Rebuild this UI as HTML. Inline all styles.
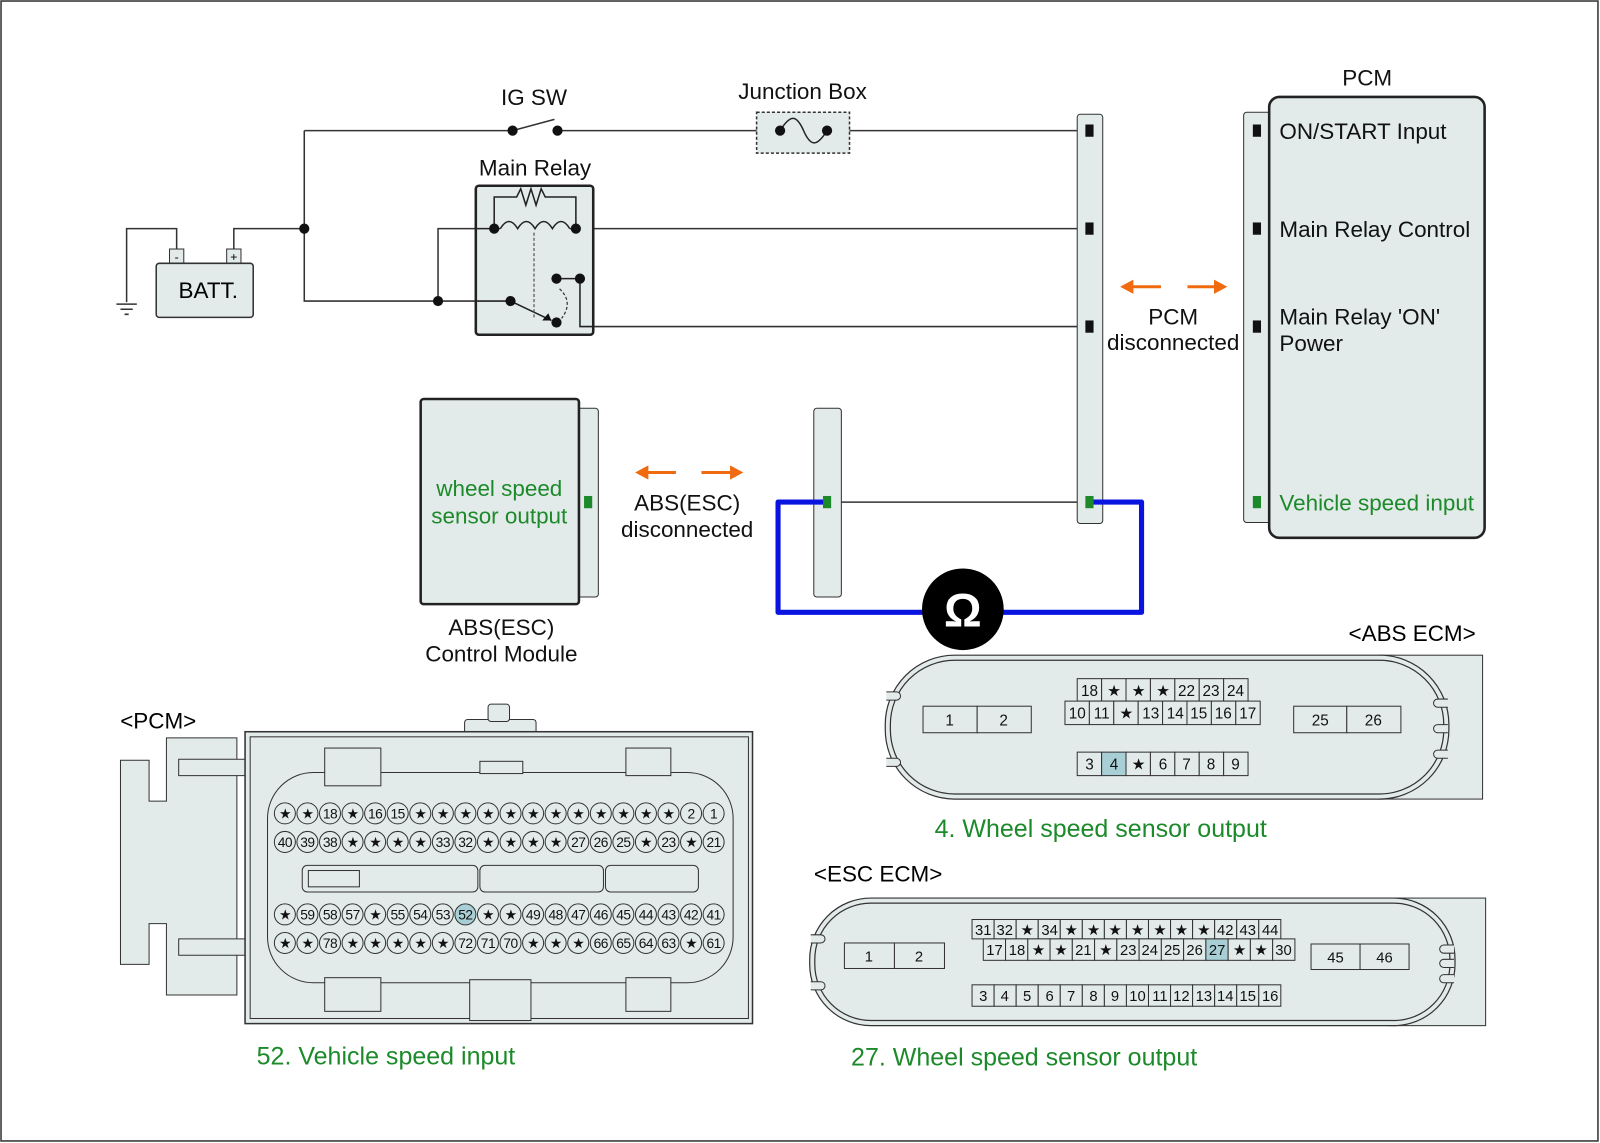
<!DOCTYPE html>
<html><head><meta charset="utf-8"><style>
html,body{margin:0;padding:0;background:#fff}
svg{display:block}
text{font-family:"Liberation Sans",Arial,sans-serif}
</style></head><body>
<svg width="1600" height="1143" viewBox="0 0 1567 1120" preserveAspectRatio="none" xmlns="http://www.w3.org/2000/svg">
<rect x="1" y="1" width="1564" height="1117" fill="#fff" stroke="#333" stroke-width="1.5"/>

<!-- wires -->
<g stroke="#333" stroke-width="1.5" fill="none">
<path d="M298,128 H502 M546,128 H764 M810,128 H1066"/>
<path d="M298,128 V295 H500"/>
<path d="M229,248 V224 H298"/>
<path d="M173,248 V224 H124 V296"/>
<path d="M429,295 V224 H484"/>
<path d="M564,224 H1066"/>
<path d="M568,273 V320 H1066"/>
<path d="M502,128 L543,117"/>
<path d="M810,492 H1066"/>
<path d="M114,298 H134 M118,303 H130 M122,308 H126"/>
</g>
<g fill="#111">
<circle cx="298" cy="224" r="5"/><circle cx="502" cy="128" r="5"/><circle cx="546" cy="128" r="5"/>
<circle cx="429" cy="295" r="5"/>
</g>

<!-- relay box -->
<rect x="466" y="182" width="115" height="146" rx="3" fill="#e3eaea" stroke="#222" stroke-width="2.5"/>
<g stroke="#222" stroke-width="1.5" fill="none">
<path d="M484,224 V193 H506 l4,-8 l5,16 l5,-16 l5,16 l5,-16 l4,8 H564 V224"/>
<path d="M490,224 q8.5,-14 17,0 q8.5,-14 17,0 q8.5,-14 17,0 q8.5,-14 17,0"/>
<path d="M484,224 H490 M558,224 H564 M545,273 H568 M568,273 V320 H581 M466,295 H500 M500,295 L540,314 M466,224 H484"/>
</g>
<path d="M523,228 V312" stroke="#555" stroke-width="1.2" stroke-dasharray="3,2"/>
<path d="M548,283 Q562,296 550,312" stroke="#333" stroke-width="1.2" stroke-dasharray="3,2" fill="none"/>
<g fill="#111">
<circle cx="500" cy="295" r="5"/><circle cx="545" cy="316" r="5"/>
<circle cx="484" cy="224" r="5"/><circle cx="564" cy="224" r="5"/><circle cx="545" cy="273" r="5"/><circle cx="568" cy="273" r="5"/>
</g>
<polygon points="540,314 531,314 537,307" fill="#111"/>

<!-- battery -->
<rect x="166" y="244" width="14" height="14" fill="#e3eaea" stroke="#333"/>
<rect x="222" y="244" width="14" height="14" fill="#e3eaea" stroke="#333"/>
<text x="173" y="256" font-size="12" text-anchor="middle">-</text>
<text x="229" y="256" font-size="12" text-anchor="middle">+</text>
<rect x="153" y="258" width="95" height="53" rx="3" fill="#e3eaea" stroke="#333" stroke-width="1.5"/>
<text x="204" y="292" font-size="22" text-anchor="middle">BATT.</text>

<!-- junction box -->
<rect x="741" y="110" width="91" height="40" fill="#e3eaea" stroke="#333" stroke-width="1.5" stroke-dasharray="3,2"/>
<path d="M764,128 C774,112 780,112 787,128 S800,144 810,128" stroke="#222" stroke-width="1.5" fill="none"/>
<circle cx="764" cy="128" r="5" fill="#111"/><circle cx="810" cy="128" r="5" fill="#111"/>

<g font-size="22" fill="#111" text-anchor="middle">
<text x="523" y="103">IG SW</text>
<text x="786" y="97">Junction Box</text>
<text x="524" y="172">Main Relay</text>
<text x="1339" y="84">PCM</text>
<text x="1149" y="318">PCM</text>
<text x="1149" y="343">disconnected</text>
<text x="673" y="500">ABS(ESC)</text>
<text x="673" y="526">disconnected</text>
<text x="491" y="622">ABS(ESC)</text>
<text x="491" y="648">Control Module</text>
</g>

<!-- connector strip center -->
<rect x="1055" y="112" width="25" height="401" rx="3" fill="#e3eaea" stroke="#333"/>
<g fill="#111"><rect x="1063" y="122" width="8" height="12"/><rect x="1063" y="218" width="8" height="12"/><rect x="1063" y="314" width="8" height="12"/></g>

<!-- PCM box -->
<rect x="1218" y="110" width="30" height="402" rx="3" fill="#e3eaea" stroke="#333"/>
<rect x="1243" y="95" width="211" height="432" rx="10" fill="#e3eaea" stroke="#222" stroke-width="2.5"/>
<g fill="#111"><rect x="1227" y="122" width="8" height="12"/><rect x="1227" y="218" width="8" height="12"/><rect x="1227" y="314" width="8" height="12"/></g>
<rect x="1227" y="486" width="8" height="12" fill="#1c8a2a"/>
<g font-size="22" fill="#111">
<text x="1253" y="136">ON/START Input</text>
<text x="1253" y="232">Main Relay Control</text>
<text x="1253" y="318">Main Relay 'ON'</text>
<text x="1253" y="344">Power</text>
<text x="1253" y="500" fill="#1c8a2a">Vehicle speed input</text>
</g>

<!-- arrows -->
<g fill="#f06a10" stroke="#f06a10" stroke-width="3">
<path d="M1108,281 H1137" /><polygon points="1097,281 1110,274 1110,288" stroke="none"/>
<path d="M1163,281 H1190" /><polygon points="1202,281 1189,274 1189,288" stroke="none"/>
<path d="M633,463 H662" /><polygon points="622,463 635,456 635,470" stroke="none"/>
<path d="M687,463 H716" /><polygon points="728,463 715,456 715,470" stroke="none"/>
</g>

<!-- ABS module -->
<rect x="562" y="400" width="24" height="185" rx="3" fill="#e3eaea" stroke="#333"/>
<rect x="412" y="391" width="155" height="201" rx="3" fill="#e3eaea" stroke="#222" stroke-width="2.5"/>
<rect x="572" y="486" width="8" height="12" fill="#1c8a2a"/>
<text x="489" y="486" font-size="22" fill="#1c8a2a" text-anchor="middle">wheel speed</text>
<text x="489" y="513" font-size="22" fill="#1c8a2a" text-anchor="middle">sensor output</text>

<!-- middle strip -->
<rect x="797" y="400" width="27" height="185" rx="3" fill="#e3eaea" stroke="#333"/>

<!-- blue loop -->
<path d="M810,492 H762 V600 H1118 V492 H1070" stroke="#0a14e0" stroke-width="5" fill="none" stroke-linejoin="round"/>
<rect x="806" y="486" width="8" height="12" fill="#1c8a2a"/>
<rect x="1063" y="486" width="8" height="12" fill="#1c8a2a"/>
<circle cx="943" cy="597" r="40" fill="#000"/>
<text x="943" y="614" font-size="46" font-weight="bold" fill="#fff" text-anchor="middle">Ω</text>

<!-- ABS ECM connector -->
<text x="1383" y="628" font-size="22" text-anchor="middle">&lt;ABS ECM&gt;</text>
<rect x="1350" y="642" width="102" height="141" fill="#e3eaea" stroke="#333"/>
<rect x="867" y="642" width="552" height="141" rx="68" fill="#e3eaea" stroke="#333" stroke-width="1.2"/>
<rect x="872" y="647" width="542" height="131" rx="63" fill="none" stroke="#333" stroke-width="1.2"/>
<g stroke="#333" fill="#e3eaea">
<path d="M868,678 h10 a4,4 0 0 1 0,8 h-10"/><path d="M868,743 h10 a4,4 0 0 1 0,8 h-10"/>
<path d="M1418,685 h-10 a4,4 0 0 0 0,8 h10"/><path d="M1418,710 h-10 a4,4 0 0 0 0,8 h10"/><path d="M1418,735 h-10 a4,4 0 0 0 0,8 h10"/>
</g>
<g stroke="#333" fill="#e3eaea" stroke-width="1">
<rect x="904" y="692" width="53" height="26"/><rect x="957" y="692" width="53" height="26"/>
<rect x="1267" y="692" width="52" height="26"/><rect x="1319" y="692" width="53" height="26"/>
<rect x="1055" y="665" width="23.9" height="22"/><rect x="1078.9" y="665" width="23.9" height="22"/><rect x="1102.8" y="665" width="23.9" height="22"/><rect x="1126.7" y="665" width="23.9" height="22"/><rect x="1150.6" y="665" width="23.9" height="22"/><rect x="1174.5" y="665" width="23.9" height="22"/><rect x="1198.4" y="665" width="23.9" height="22"/>
<rect x="1043" y="687" width="23.9" height="23"/><rect x="1066.9" y="687" width="23.9" height="23"/><rect x="1090.8" y="687" width="23.9" height="23"/><rect x="1114.7" y="687" width="23.9" height="23"/><rect x="1138.6" y="687" width="23.9" height="23"/><rect x="1162.5" y="687" width="23.9" height="23"/><rect x="1186.4" y="687" width="23.9" height="23"/><rect x="1210.3" y="687" width="23.9" height="23"/>
<rect x="1055" y="737" width="23.9" height="23"/><rect x="1078.9" y="737" width="23.9" height="23" fill="#a9cfd6"/><rect x="1102.8" y="737" width="23.9" height="23"/><rect x="1126.7" y="737" width="23.9" height="23"/><rect x="1150.6" y="737" width="23.9" height="23"/><rect x="1174.5" y="737" width="23.9" height="23"/><rect x="1198.4" y="737" width="23.9" height="23"/>
</g>
<g font-size="15" text-anchor="middle" fill="#111">
<text x="930" y="711">1</text><text x="983" y="711">2</text><text x="1293" y="711">25</text><text x="1345" y="711">26</text>
<text x="1067" y="682">18</text><text x="1091" y="682">★</text><text x="1115" y="682">★</text><text x="1139" y="682">★</text><text x="1162" y="682">22</text><text x="1186" y="682">23</text><text x="1210" y="682">24</text>
<text x="1055" y="704">10</text><text x="1079" y="704">11</text><text x="1103" y="704">★</text><text x="1127" y="704">13</text><text x="1151" y="704">14</text><text x="1174" y="704">15</text><text x="1198" y="704">16</text><text x="1222" y="704">17</text>
<text x="1067" y="754">3</text><text x="1091" y="754">4</text><text x="1115" y="754">★</text><text x="1139" y="754">6</text><text x="1162" y="754">7</text><text x="1186" y="754">8</text><text x="1210" y="754">9</text>
</g>
<text x="1078" y="820" font-size="24.5" fill="#1c8a2a" text-anchor="middle">4. Wheel speed sensor output</text>

<!-- ESC ECM connector -->
<text x="860" y="864" font-size="22" text-anchor="middle">&lt;ESC ECM&gt;</text>
<rect x="1360" y="880" width="95" height="125" fill="#e3eaea" stroke="#333"/>
<rect x="793" y="880" width="632" height="125" rx="60" fill="#e3eaea" stroke="#333" stroke-width="1.2"/>
<rect x="798" y="885" width="622" height="115" rx="55" fill="none" stroke="#333" stroke-width="1.2"/>
<g stroke="#333" fill="#e3eaea">
<path d="M794,916 h10 a4,4 0 0 1 0,8 h-10"/><path d="M794,962 h10 a4,4 0 0 1 0,8 h-10"/>
<path d="M1424,926 h-10 a4,4 0 0 0 0,8 h10"/><path d="M1424,940 h-10 a4,4 0 0 0 0,8 h10"/><path d="M1424,955 h-10 a4,4 0 0 0 0,8 h10"/>
</g>
<g stroke="#333" fill="#e3eaea" stroke-width="1">
<rect x="827" y="924" width="49" height="25"/><rect x="876" y="924" width="49" height="25"/>
<rect x="1284" y="925" width="48" height="25"/><rect x="1332" y="925" width="48" height="25"/>
<rect x="952" y="901" width="21.6" height="19"/><rect x="973.6" y="901" width="21.6" height="19"/><rect x="995.2" y="901" width="21.6" height="19"/><rect x="1016.8" y="901" width="21.6" height="19"/><rect x="1038.4" y="901" width="21.6" height="19"/><rect x="1060" y="901" width="21.6" height="19"/><rect x="1081.6" y="901" width="21.6" height="19"/><rect x="1103.2" y="901" width="21.6" height="19"/><rect x="1124.8" y="901" width="21.6" height="19"/><rect x="1146.4" y="901" width="21.6" height="19"/><rect x="1168" y="901" width="21.6" height="19"/><rect x="1189.6" y="901" width="21.6" height="19"/><rect x="1211.2" y="901" width="21.6" height="19"/><rect x="1232.8" y="901" width="21.6" height="19"/>
<rect x="963" y="920" width="21.8" height="21"/><rect x="984.8" y="920" width="21.8" height="21"/><rect x="1006.6" y="920" width="21.8" height="21"/><rect x="1028.4" y="920" width="21.8" height="21"/><rect x="1050.2" y="920" width="21.8" height="21"/><rect x="1072" y="920" width="21.8" height="21"/><rect x="1093.8" y="920" width="21.8" height="21"/><rect x="1115.6" y="920" width="21.8" height="21"/><rect x="1137.4" y="920" width="21.8" height="21"/><rect x="1159.2" y="920" width="21.8" height="21"/><rect x="1181" y="920" width="21.8" height="21" fill="#a9cfd6"/><rect x="1202.8" y="920" width="21.8" height="21"/><rect x="1224.6" y="920" width="21.8" height="21"/><rect x="1246.4" y="920" width="21.8" height="21"/>
<rect x="952" y="965" width="21.6" height="21"/><rect x="973.6" y="965" width="21.6" height="21"/><rect x="995.2" y="965" width="21.6" height="21"/><rect x="1016.8" y="965" width="21.6" height="21"/><rect x="1038.4" y="965" width="21.6" height="21"/><rect x="1060" y="965" width="21.6" height="21"/><rect x="1081.6" y="965" width="21.6" height="21"/><rect x="1103.2" y="965" width="21.6" height="21"/><rect x="1124.8" y="965" width="21.6" height="21"/><rect x="1146.4" y="965" width="21.6" height="21"/><rect x="1168" y="965" width="21.6" height="21"/><rect x="1189.6" y="965" width="21.6" height="21"/><rect x="1211.2" y="965" width="21.6" height="21"/><rect x="1232.8" y="965" width="21.6" height="21"/>
</g>
<g font-size="14.5" text-anchor="middle" fill="#111">
<text x="851" y="942">1</text><text x="900" y="942">2</text><text x="1308" y="943">45</text><text x="1356" y="943">46</text>
<text x="963" y="916">31</text><text x="984" y="916">32</text><text x="1006" y="916">★</text><text x="1028" y="916">34</text><text x="1049" y="916">★</text><text x="1071" y="916">★</text><text x="1092" y="916">★</text><text x="1114" y="916">★</text><text x="1136" y="916">★</text><text x="1157" y="916">★</text><text x="1179" y="916">★</text><text x="1200" y="916">42</text><text x="1222" y="916">43</text><text x="1244" y="916">44</text>
<text x="974" y="936">17</text><text x="996" y="936">18</text><text x="1017" y="936">★</text><text x="1039" y="936">★</text><text x="1061" y="936">21</text><text x="1083" y="936">★</text><text x="1105" y="936">23</text><text x="1126" y="936">24</text><text x="1148" y="936">25</text><text x="1170" y="936">26</text><text x="1192" y="936">27</text><text x="1214" y="936">★</text><text x="1235" y="936">★</text><text x="1257" y="936">30</text>
<text x="963" y="981">3</text><text x="984" y="981">4</text><text x="1006" y="981">5</text><text x="1028" y="981">6</text><text x="1049" y="981">7</text><text x="1071" y="981">8</text><text x="1092" y="981">9</text><text x="1114" y="981">10</text><text x="1136" y="981">11</text><text x="1157" y="981">12</text><text x="1179" y="981">13</text><text x="1200" y="981">14</text><text x="1222" y="981">15</text><text x="1244" y="981">16</text>
</g>
<text x="1003" y="1044" font-size="24.5" fill="#1c8a2a" text-anchor="middle">27. Wheel speed sensor output</text>

<!-- PCM connector -->
<text x="155" y="714" font-size="22" text-anchor="middle">&lt;PCM&gt;</text>
<path d="M118,745 H146 V785 H163 V723 H232 V975 H163 V905 H146 V945 H118 Z" fill="#e3eaea" stroke="#333"/>
<path d="M175,744 H240 V760 H175 Z M175,920 H240 V936 H175 Z" fill="#e3eaea" stroke="#333"/>
<rect x="455" y="705" width="70" height="14" rx="3" fill="#e3eaea" stroke="#333"/>
<rect x="478" y="690" width="21" height="17" rx="3" fill="#e3eaea" stroke="#333"/>
<rect x="240" y="717" width="497" height="286" fill="#e3eaea" stroke="#333" stroke-width="1.5"/>
<rect x="245" y="722" width="488" height="276" fill="none" stroke="#333"/>
<rect x="262" y="757" width="456" height="206" rx="45" fill="#e3eaea" stroke="#333"/>
<g fill="#e3eaea" stroke="#333">
<rect x="318" y="733" width="55" height="37"/><rect x="613" y="733" width="44" height="27"/>
<rect x="318" y="958" width="55" height="33"/><rect x="613" y="958" width="44" height="33"/>
<rect x="460" y="960" width="60" height="40"/>
<rect x="470" y="746" width="42" height="12"/>
<rect x="296" y="848" width="172" height="26" rx="5"/><rect x="302" y="853" width="50" height="16"/>
<rect x="470" y="848" width="121" height="26" rx="5"/><rect x="593" y="848" width="91" height="26" rx="5"/>
</g>
<g stroke="#333" fill="#e3eaea" stroke-width="1">
<circle cx="279" cy="797" r="10.3"/><circle cx="301.1" cy="797" r="10.3"/><circle cx="323.2" cy="797" r="10.3"/><circle cx="345.3" cy="797" r="10.3"/><circle cx="367.4" cy="797" r="10.3"/><circle cx="389.5" cy="797" r="10.3"/><circle cx="411.6" cy="797" r="10.3"/><circle cx="433.7" cy="797" r="10.3"/><circle cx="455.8" cy="797" r="10.3"/><circle cx="477.9" cy="797" r="10.3"/><circle cx="500" cy="797" r="10.3"/><circle cx="522.1" cy="797" r="10.3"/><circle cx="544.2" cy="797" r="10.3"/><circle cx="566.3" cy="797" r="10.3"/><circle cx="588.4" cy="797" r="10.3"/><circle cx="610.5" cy="797" r="10.3"/><circle cx="632.6" cy="797" r="10.3"/><circle cx="654.7" cy="797" r="10.3"/><circle cx="676.8" cy="797" r="10.3"/><circle cx="698.9" cy="797" r="10.3"/>
<circle cx="279" cy="825" r="10.3"/><circle cx="301.1" cy="825" r="10.3"/><circle cx="323.2" cy="825" r="10.3"/><circle cx="345.3" cy="825" r="10.3"/><circle cx="367.4" cy="825" r="10.3"/><circle cx="389.5" cy="825" r="10.3"/><circle cx="411.6" cy="825" r="10.3"/><circle cx="433.7" cy="825" r="10.3"/><circle cx="455.8" cy="825" r="10.3"/><circle cx="477.9" cy="825" r="10.3"/><circle cx="500" cy="825" r="10.3"/><circle cx="522.1" cy="825" r="10.3"/><circle cx="544.2" cy="825" r="10.3"/><circle cx="566.3" cy="825" r="10.3"/><circle cx="588.4" cy="825" r="10.3"/><circle cx="610.5" cy="825" r="10.3"/><circle cx="632.6" cy="825" r="10.3"/><circle cx="654.7" cy="825" r="10.3"/><circle cx="676.8" cy="825" r="10.3"/><circle cx="698.9" cy="825" r="10.3"/>
<circle cx="279" cy="896" r="10.3"/><circle cx="301.1" cy="896" r="10.3"/><circle cx="323.2" cy="896" r="10.3"/><circle cx="345.3" cy="896" r="10.3"/><circle cx="367.4" cy="896" r="10.3"/><circle cx="389.5" cy="896" r="10.3"/><circle cx="411.6" cy="896" r="10.3"/><circle cx="433.7" cy="896" r="10.3"/><circle cx="455.8" cy="896" r="10.3" fill="#a9cfd6"/><circle cx="477.9" cy="896" r="10.3"/><circle cx="500" cy="896" r="10.3"/><circle cx="522.1" cy="896" r="10.3"/><circle cx="544.2" cy="896" r="10.3"/><circle cx="566.3" cy="896" r="10.3"/><circle cx="588.4" cy="896" r="10.3"/><circle cx="610.5" cy="896" r="10.3"/><circle cx="632.6" cy="896" r="10.3"/><circle cx="654.7" cy="896" r="10.3"/><circle cx="676.8" cy="896" r="10.3"/><circle cx="698.9" cy="896" r="10.3"/>
<circle cx="279" cy="924" r="10.3"/><circle cx="301.1" cy="924" r="10.3"/><circle cx="323.2" cy="924" r="10.3"/><circle cx="345.3" cy="924" r="10.3"/><circle cx="367.4" cy="924" r="10.3"/><circle cx="389.5" cy="924" r="10.3"/><circle cx="411.6" cy="924" r="10.3"/><circle cx="433.7" cy="924" r="10.3"/><circle cx="455.8" cy="924" r="10.3"/><circle cx="477.9" cy="924" r="10.3"/><circle cx="500" cy="924" r="10.3"/><circle cx="522.1" cy="924" r="10.3"/><circle cx="544.2" cy="924" r="10.3"/><circle cx="566.3" cy="924" r="10.3"/><circle cx="588.4" cy="924" r="10.3"/><circle cx="610.5" cy="924" r="10.3"/><circle cx="632.6" cy="924" r="10.3"/><circle cx="654.7" cy="924" r="10.3"/><circle cx="676.8" cy="924" r="10.3"/><circle cx="698.9" cy="924" r="10.3"/>
</g>
<g font-size="13.5" text-anchor="middle" fill="#111" letter-spacing="-0.5">
<text x="279" y="802">★</text><text x="301.1" y="802">★</text><text x="323.2" y="802">18</text><text x="345.3" y="802">★</text><text x="367.4" y="802">16</text><text x="389.5" y="802">15</text><text x="411.6" y="802">★</text><text x="433.7" y="802">★</text><text x="455.8" y="802">★</text><text x="477.9" y="802">★</text><text x="500" y="802">★</text><text x="522.1" y="802">★</text><text x="544.2" y="802">★</text><text x="566.3" y="802">★</text><text x="588.4" y="802">★</text><text x="610.5" y="802">★</text><text x="632.6" y="802">★</text><text x="654.7" y="802">★</text><text x="676.8" y="802">2</text><text x="698.9" y="802">1</text>
<text x="279" y="830">40</text><text x="301.1" y="830">39</text><text x="323.2" y="830">38</text><text x="345.3" y="830">★</text><text x="367.4" y="830">★</text><text x="389.5" y="830">★</text><text x="411.6" y="830">★</text><text x="433.7" y="830">33</text><text x="455.8" y="830">32</text><text x="477.9" y="830">★</text><text x="500" y="830">★</text><text x="522.1" y="830">★</text><text x="544.2" y="830">★</text><text x="566.3" y="830">27</text><text x="588.4" y="830">26</text><text x="610.5" y="830">25</text><text x="632.6" y="830">★</text><text x="654.7" y="830">23</text><text x="676.8" y="830">★</text><text x="698.9" y="830">21</text>
<text x="279" y="901">★</text><text x="301.1" y="901">59</text><text x="323.2" y="901">58</text><text x="345.3" y="901">57</text><text x="367.4" y="901">★</text><text x="389.5" y="901">55</text><text x="411.6" y="901">54</text><text x="433.7" y="901">53</text><text x="455.8" y="901">52</text><text x="477.9" y="901">★</text><text x="500" y="901">★</text><text x="522.1" y="901">49</text><text x="544.2" y="901">48</text><text x="566.3" y="901">47</text><text x="588.4" y="901">46</text><text x="610.5" y="901">45</text><text x="632.6" y="901">44</text><text x="654.7" y="901">43</text><text x="676.8" y="901">42</text><text x="698.9" y="901">41</text>
<text x="279" y="929">★</text><text x="301.1" y="929">★</text><text x="323.2" y="929">78</text><text x="345.3" y="929">★</text><text x="367.4" y="929">★</text><text x="389.5" y="929">★</text><text x="411.6" y="929">★</text><text x="433.7" y="929">★</text><text x="455.8" y="929">72</text><text x="477.9" y="929">71</text><text x="500" y="929">70</text><text x="522.1" y="929">★</text><text x="544.2" y="929">★</text><text x="566.3" y="929">★</text><text x="588.4" y="929">66</text><text x="610.5" y="929">65</text><text x="632.6" y="929">64</text><text x="654.7" y="929">63</text><text x="676.8" y="929">★</text><text x="698.9" y="929">61</text>
</g>
<text x="378" y="1043" font-size="24.5" fill="#1c8a2a" text-anchor="middle">52. Vehicle speed input</text>
</svg>
</body></html>
